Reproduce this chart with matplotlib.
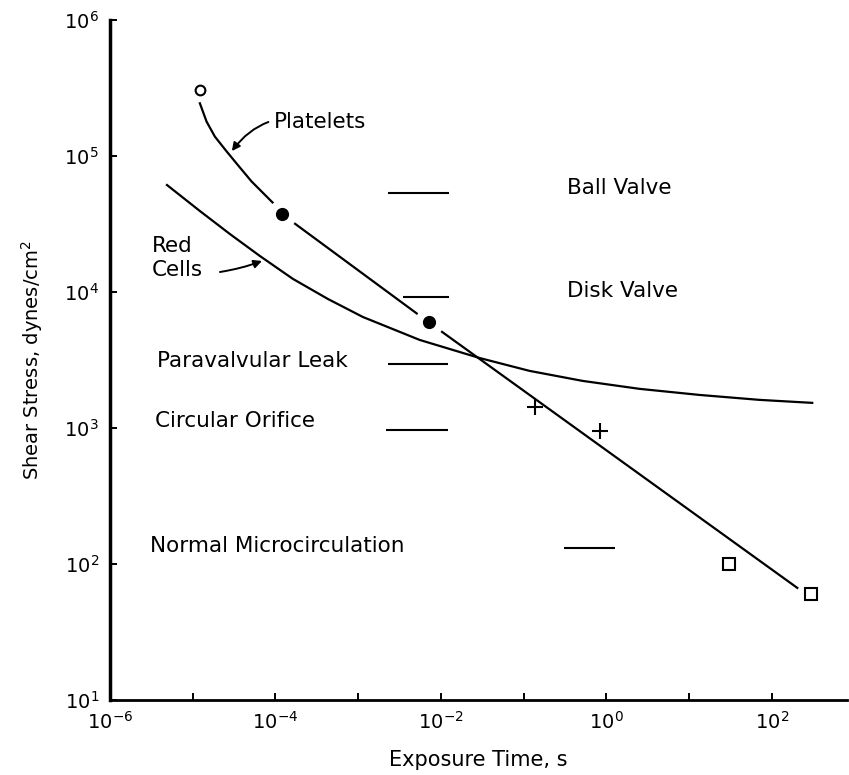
import matplotlib.pyplot as plt
import numpy as np

# Platelet damage threshold curve (exposure time s, shear stress dyn/cm^2)
plt_t = [1.22e-5, 1.47e-5, 1.85e-5, 2.45e-5, 3.39e-5, 5.14e-5, 9.4e-5,
         1.19e-4, 7.1e-3, 204]
plt_tau = [2.44e5, 1.79e5, 1.39e5, 1.12e5, 8.8e4, 6.5e4, 4.5e4,
           3.75e4, 6.0e3, 66.7]

# Red cell damage threshold curve
rbc_t = [4.88e-6, 1.22e-5, 2.81e-5, 6.48e-5, 1.62e-4, 4.30e-4, 1.14e-3,
         5.55e-3, 2.94e-2, 0.118, 0.516, 2.52, 13.4, 70.8, 309]
rbc_tau = [6.12e4, 3.94e4, 2.67e4, 1.84e4, 1.25e4, 8.89e3, 6.55e3,
           4.44e3, 3.27e3, 2.63e3, 2.22e3, 1.94e3, 1.75e3, 1.61e3, 1.53e3]

# Platelet data points by study
open_t, open_tau = [1.22e-5], [3.06e5]
filled_t, filled_tau = [1.19e-4, 7.1e-3], [3.75e4, 6.0e3]
plus_t, plus_tau = [0.136, 0.83], [1.43e3, 950]
square_t, square_tau = [30.8, 300], [100, 60]

# Flow conditions: stress level and exposure-time span
cond_names = ['Ball Valve', 'Disk Valve', 'Paravalvular Leak',
              'Circular Orifice', 'Normal Microcirculation']
cond_tau = [5.35e4, 9.2e3, 2.96e3, 9.66e2, 1.31e2]
cond_t0 = [2.27e-3, 3.46e-3, 2.3e-3, 2.2e-3, 0.31]
cond_t1 = [1.27e-2, 1.27e-2, 1.22e-2, 1.22e-2, 1.29]

fig = plt.figure(figsize=(8.49, 7.75), dpi=100)
ax = fig.add_axes([0.1296, 0.0968, 0.868, 0.8774])
ax.set_xscale('log')
ax.set_yscale('log')
ax.set_xlim(1e-6, 10 ** 2.91)
ax.set_ylim(1e1, 1e6)

ax.plot(plt_t, plt_tau, color='black', lw=1.6, zorder=2)
ax.plot(rbc_t, rbc_tau, color='black', lw=1.6, zorder=2)

ax.plot(open_t, open_tau, 'o', ms=7, mfc='white', mec='black', mew=1.5, zorder=4)
# white halo breaks the curve around the solid points
ax.plot(filled_t, filled_tau, 'o', ms=20, mfc='white', mec='white', zorder=3)
ax.plot(filled_t, filled_tau, 'o', ms=8.5, mfc='black', mec='black', zorder=4)
ax.plot(plus_t, plus_tau, '+', ms=11, mew=1.5, color='black', zorder=4)
ax.plot(square_t, square_tau, 's', ms=8, mfc='white', mec='black', mew=1.5, zorder=4)

ax.hlines(cond_tau, cond_t0, cond_t1, color='black', lw=1.5)

fs = 15.5
ax.text(10 ** -0.469, 10 ** 4.765, 'Ball Valve', fontsize=fs, va='center')
ax.text(10 ** -0.469, 10 ** 4.007, 'Disk Valve', fontsize=fs, va='center')
ax.text(10 ** -5.432, 10 ** 3.493, 'Paravalvular Leak', fontsize=fs, va='center')
ax.text(10 ** -5.457, 10 ** 3.051, 'Circular Orifice', fontsize=fs, va='center')
ax.text(10 ** -5.517, 10 ** 2.132, 'Normal Microcirculation', fontsize=fs, va='center')

ax.annotate('Platelets', xy=(10 ** -4.527, 10 ** 5.036),
            xytext=(10 ** -4.02, 10 ** 5.25), fontsize=fs, va='center',
            arrowprops=dict(arrowstyle='-|>', color='black', lw=1.4,
                            mutation_scale=12, shrinkA=2, shrinkB=0,
                            connectionstyle='arc3,rad=0.35'))
ax.text(10 ** -5.49, 10 ** 4.25, 'Red\nCells', fontsize=fs, va='center',
        linespacing=1.2)
ax.annotate('', xy=(10 ** -4.163, 10 ** 4.228), xytext=(10 ** -4.671, 10 ** 4.147),
            arrowprops=dict(arrowstyle='-|>', color='black', lw=1.4,
                            mutation_scale=12, shrinkA=0, shrinkB=0,
                            connectionstyle='arc3,rad=0.05'))

ax.spines['top'].set_visible(False)
ax.spines['right'].set_visible(False)
ax.spines['left'].set_linewidth(2.5)
ax.spines['bottom'].set_linewidth(2)

ax.set_xticks([10.0 ** k for k in range(-6, 3)])
ax.set_xticklabels([f'$10^{{{k}}}$' if k % 2 == 0 else '' for k in range(-6, 3)])
ax.set_yticks([10.0 ** k for k in range(1, 7)])
ax.set_yticklabels([f'$10^{{{k}}}$' for k in range(1, 7)])
ax.minorticks_off()
ax.tick_params(direction='in', length=5, width=1.4, labelsize=14, pad=8)

ax.set_xlabel('Exposure Time, s', fontsize=15, labelpad=12)
ax.set_ylabel('Shear Stress, dynes/cm$^2$', fontsize=14, labelpad=14)

fig.savefig('out.png', dpi=100)
